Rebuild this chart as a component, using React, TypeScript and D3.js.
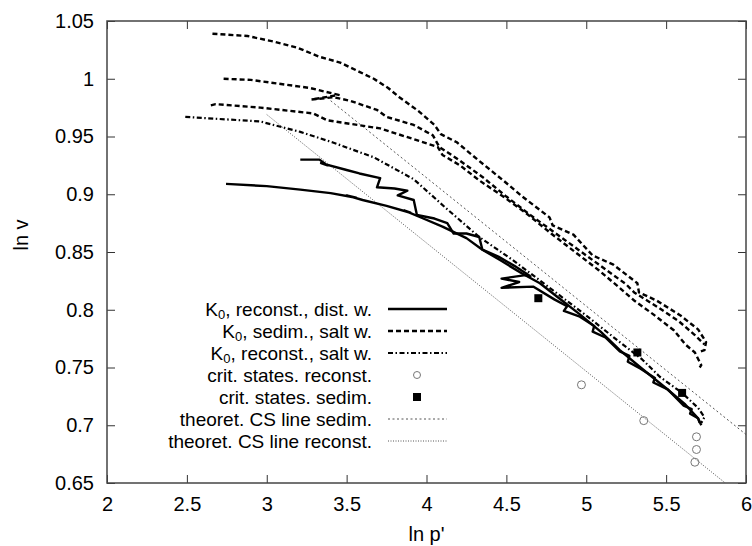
import * as d3 from 'd3';
import React, { useEffect, useRef } from 'react';

const xTicks = [2, 2.5, 3, 3.5, 4, 4.5, 5, 5.5, 6];
const yTicks = [0.65, 0.7, 0.75, 0.8, 0.85, 0.9, 0.95, 1, 1.05];

// K0, reconst., dist. w. (solid)
const reconstDistA = [
  [2.745, 0.909], [3.0, 0.907], [3.21, 0.904], [3.4, 0.901], [3.56, 0.897], [3.5, 0.899], [3.6, 0.895],
  [3.75, 0.89], [3.9, 0.884], [3.86, 0.886], [3.98, 0.879], [4.1, 0.872], [4.25, 0.862], [4.35, 0.852],
  [4.46, 0.843], [4.59, 0.832], [4.71, 0.823], [4.82, 0.811], [4.96, 0.796], [5.09, 0.781], [5.21, 0.765],
  [5.34, 0.75], [5.5, 0.732], [5.62, 0.718], [5.7, 0.706], [5.71, 0.702]
];
const reconstDistB = [
  [3.21, 0.93], [3.33, 0.93], [3.38, 0.925], [3.34, 0.927], [3.5, 0.921], [3.58, 0.918], [3.71, 0.914],
  [3.69, 0.906], [3.8, 0.905], [3.88, 0.903], [3.82, 0.899], [3.92, 0.895], [3.94, 0.882], [4.05, 0.879],
  [4.13, 0.875], [4.17, 0.866], [4.25, 0.866], [4.33, 0.863], [4.35, 0.852], [4.45, 0.846], [4.55, 0.838],
  [4.65, 0.829], [4.62, 0.83], [4.47, 0.827], [4.58, 0.824], [4.47, 0.819], [4.67, 0.82], [4.8, 0.809],
  [4.88, 0.803], [4.86, 0.799], [4.96, 0.794], [5.05, 0.786], [5.04, 0.781], [5.12, 0.776], [5.21, 0.764],
  [5.27, 0.76], [5.26, 0.755], [5.34, 0.749], [5.43, 0.741], [5.42, 0.737], [5.51, 0.731], [5.61, 0.717],
  [5.66, 0.714], [5.65, 0.71], [5.7, 0.706], [5.72, 0.7]
];

// K0, sedim., salt w. (dashed)
const sedimSaltA = [
  [2.66, 1.039], [2.88, 1.037], [3.05, 1.032], [3.19, 1.027], [3.33, 1.019], [3.46, 1.014], [3.58, 1.006],
  [3.67, 1.0], [3.76, 0.992], [3.83, 0.984], [3.95, 0.972], [4.05, 0.96], [4.09, 0.952], [4.19, 0.945],
  [4.32, 0.93], [4.48, 0.912], [4.6, 0.898], [4.77, 0.88], [4.79, 0.873], [4.92, 0.865], [5.04, 0.847],
  [5.17, 0.839], [5.32, 0.823], [5.33, 0.815], [5.44, 0.808], [5.59, 0.795], [5.7, 0.783], [5.75, 0.772],
  [5.74, 0.765], [5.7, 0.763]
];
const sedimSaltB = [
  [2.73, 1.0], [2.9, 0.999], [3.06, 0.996], [3.27, 0.992], [3.45, 0.986], [3.28, 0.982], [3.42, 0.984],
  [3.52, 0.981], [3.69, 0.973], [3.75, 0.967], [3.92, 0.96], [4.04, 0.951], [4.08, 0.941], [4.2, 0.93],
  [4.35, 0.915], [4.5, 0.898], [4.65, 0.882], [4.8, 0.867], [4.95, 0.852], [5.1, 0.837], [5.25, 0.822],
  [5.3, 0.815], [5.45, 0.802], [5.58, 0.79], [5.68, 0.778], [5.74, 0.77]
];
const sedimSaltC = [
  [2.65, 0.977], [2.68, 0.978], [2.96, 0.975], [3.29, 0.97], [3.38, 0.964], [3.71, 0.957], [4.07, 0.941],
  [4.1, 0.934], [4.21, 0.925], [4.33, 0.912], [4.48, 0.898], [4.62, 0.884], [4.78, 0.866], [4.93, 0.85],
  [5.08, 0.834], [5.2, 0.82], [5.3, 0.808], [5.42, 0.796], [5.55, 0.782], [5.62, 0.77], [5.68, 0.763],
  [5.72, 0.752], [5.71, 0.75]
];

// K0, reconst., salt w. (dash-dot)
const reconstSalt = [
  [2.49, 0.967], [2.96, 0.963], [3.21, 0.954], [3.41, 0.945], [3.67, 0.932], [3.92, 0.913], [4.13, 0.887],
  [4.33, 0.863], [4.54, 0.843], [4.79, 0.817], [5.0, 0.795], [5.2, 0.773], [5.35, 0.757], [5.46, 0.742],
  [5.6, 0.728], [5.7, 0.715], [5.74, 0.707], [5.72, 0.702]
];

const critReconst = [[4.97, 0.735], [5.36, 0.704], [5.69, 0.69], [5.69, 0.679], [5.68, 0.668]];
const critSedim = [[4.7, 0.81], [5.32, 0.763], [5.6, 0.728]];

const csSedim = [[3.4, 0.981], [6.0, 0.692]];
const csReconst = [[3.0, 0.969], [5.87, 0.65]];

const legendLabels = [
  'K0, reconst., dist. w.',
  'K0, sedim., salt w.',
  'K0, reconst., salt w.',
  'crit. states. reconst.',
  'crit. states. sedim.',
  'theoret. CS line sedim.',
  'theoret. CS line reconst.'
];

const font = 'Liberation Sans, Arial, Helvetica, sans-serif';

const styles = {
  solid: { stroke: '#000', width: 2.4, dash: null },
  dashed: { stroke: '#000', width: 2.4, dash: '5,3' },
  dashdot: { stroke: '#000', width: 2.2, dash: '5,2.5,1.5,2.5' },
  csSedim: { stroke: '#555', width: 1, dash: '2,2.5' },
  csReconst: { stroke: '#555', width: 1, dash: '1,1.5' }
};

function App() {
  const ref = useRef(null);

  useEffect(() => {
    const svg = d3.select(ref.current);
    svg.selectAll('*').remove();

    const x = d3.scaleLinear().domain([2, 6]).range([107, 746]);
    const y = d3.scaleLinear().domain([0.65, 1.05]).range([483, 21]);

    svg.append('defs').append('clipPath').attr('id', 'plotArea')
      .append('rect')
      .attr('x', x(2)).attr('y', y(1.05))
      .attr('width', x(6) - x(2)).attr('height', y(0.65) - y(1.05));

    const line = d3.line().x(d => x(d[0])).y(d => y(d[1]));
    const g = svg.append('g').attr('clip-path', 'url(#plotArea)');

    const drawLine = (data, st) => {
      const p = g.append('path')
        .attr('d', line(data))
        .attr('fill', 'none')
        .attr('stroke', st.stroke)
        .attr('stroke-width', st.width)
        .attr('stroke-linejoin', 'round');
      if (st.dash) p.attr('stroke-dasharray', st.dash);
    };

    // theoretische CS-Linien zuerst (liegen unten)
    drawLine(csSedim, styles.csSedim);
    drawLine(csReconst, styles.csReconst);

    drawLine(sedimSaltA, styles.dashed);
    drawLine(sedimSaltB, styles.dashed);
    drawLine(sedimSaltC, styles.dashed);
    drawLine(reconstSalt, styles.dashdot);
    drawLine(reconstDistA, styles.solid);
    drawLine(reconstDistB, styles.solid);

    g.selectAll('circle.crit')
      .data(critReconst)
      .enter()
      .append('circle')
      .attr('cx', d => x(d[0]))
      .attr('cy', d => y(d[1]))
      .attr('r', 4)
      .attr('fill', 'none')
      .attr('stroke', '#777')
      .attr('stroke-width', 1);

    g.selectAll('rect.crit')
      .data(critSedim)
      .enter()
      .append('rect')
      .attr('x', d => x(d[0]) - 4)
      .attr('y', d => y(d[1]) - 4)
      .attr('width', 8)
      .attr('height', 8)
      .attr('fill', '#000');

    // Achsen mit Ticks nach innen
    const fmt = d3.format('~g');
    const styleAxis = sel => {
      sel.select('.domain').remove();
      sel.selectAll('line').attr('stroke', '#333').attr('stroke-width', 1);
      sel.selectAll('text').attr('fill', '#000').style('font-family', font).style('font-size', '20px');
    };

    svg.append('g')
      .attr('transform', `translate(0,${y(0.65)})`)
      .call(d3.axisBottom(x).tickValues(xTicks).tickSize(-8).tickPadding(14).tickFormat(fmt))
      .call(styleAxis);
    svg.append('g')
      .attr('transform', `translate(${x(2)},0)`)
      .call(d3.axisLeft(y).tickValues(yTicks).tickSize(-8).tickPadding(13).tickFormat(fmt))
      .call(styleAxis);
    svg.append('g')
      .attr('transform', `translate(0,${y(1.05)})`)
      .call(d3.axisTop(x).tickValues(xTicks).tickSize(-8).tickFormat(() => ''))
      .call(styleAxis);
    svg.append('g')
      .attr('transform', `translate(${x(6)},0)`)
      .call(d3.axisRight(y).tickValues(yTicks).tickSize(-8).tickFormat(() => ''))
      .call(styleAxis);

    svg.append('rect')
      .attr('x', x(2)).attr('y', y(1.05))
      .attr('width', x(6) - x(2)).attr('height', y(0.65) - y(1.05))
      .attr('fill', 'none')
      .attr('stroke', '#444')
      .attr('stroke-width', 1.5);

    svg.append('text')
      .attr('x', (x(2) + x(6)) / 2)
      .attr('y', 541)
      .attr('text-anchor', 'middle')
      .style('font-family', font)
      .style('font-size', '20px')
      .text("ln p'");

    svg.append('text')
      .attr('transform', 'translate(28,235) rotate(-90)')
      .attr('text-anchor', 'middle')
      .style('font-family', font)
      .style('font-size', '20px')
      .text('ln v');

    // Legende
    const legendStyles = [styles.solid, styles.dashed, styles.dashdot, null, null, styles.csSedim, styles.csReconst];
    const leg = svg.append('g');
    legendLabels.forEach((label, i) => {
      const cy = 309 + i * 22;
      const t = leg.append('text')
        .attr('x', 372)
        .attr('y', cy)
        .attr('dy', '0.35em')
        .attr('text-anchor', 'end')
        .style('font-family', font)
        .style('font-size', '19px');
      if (label.startsWith('K0')) {
        t.append('tspan').text('K');
        t.append('tspan').attr('dy', 3).style('font-size', '13px').text('0');
        t.append('tspan').attr('dy', -3).text(label.slice(2));
      } else {
        t.text(label);
      }
      const st = legendStyles[i];
      if (st) {
        const p = leg.append('line')
          .attr('x1', 388).attr('x2', 447)
          .attr('y1', cy).attr('y2', cy)
          .attr('stroke', st.stroke)
          .attr('stroke-width', st.width);
        if (st.dash) p.attr('stroke-dasharray', st.dash);
      } else if (i === 3) {
        leg.append('circle').attr('cx', 417).attr('cy', cy).attr('r', 3.5)
          .attr('fill', 'none').attr('stroke', '#777').attr('stroke-width', 1);
      } else {
        leg.append('rect').attr('x', 413).attr('y', cy - 4).attr('width', 8).attr('height', 8).attr('fill', '#000');
      }
    });
  }, []);

  return (
    <svg ref={ref} width={752} height={546} style={{ position: 'absolute', left: 0, top: 0, background: '#fff' }}></svg>
  );
}

export default App;
